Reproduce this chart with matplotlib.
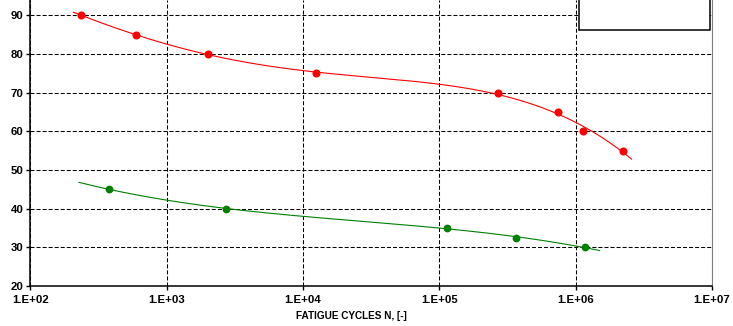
import numpy as np
import matplotlib.pyplot as plt
from matplotlib.patches import Rectangle

plt.rcParams['font.family'] = ['Liberation Sans', 'DejaVu Sans']
plt.rcParams['lines.scale_dashes'] = False

# S-N data: stress level vs fatigue cycles
red_cycles = [234, 600, 2000, 12400, 268000, 740000, 1.13e6, 2.24e6]
red_stress = [90, 85, 80, 75, 70, 65, 60, 55]

green_cycles = [380, 2730, 113500, 364000, 1.17e6]
green_stress = [45, 40, 35, 32.5, 30]

# range of the fitted trend lines (cycles)
red_fit_range = [207, 2.57e6]
green_fit_range = [228, 1.5e6]

x_ticks = [1e2, 1e3, 1e4, 1e5, 1e6, 1e7]
x_ticklabels = ['1.E+02', '1.E+03', '1.E+04', '1.E+05', '1.E+06', '1.E+07']
y_ticks = [20, 30, 40, 50, 60, 70, 80, 90]

fig = plt.figure(figsize=(7.33, 3.26), dpi=100)
ax = fig.add_axes([0.0413, 0.1227, 0.9301, 0.8773])


def trend(cycles, stress, rng, deg):
    lx = np.log10(cycles)
    coef = np.polyfit(lx, stress, deg)
    xs = np.linspace(np.log10(rng[0]), np.log10(rng[1]), 300)
    return 10 ** xs, np.polyval(coef, xs)


rx, ry = trend(red_cycles, red_stress, red_fit_range, 4)
gx, gy = trend(green_cycles, green_stress, green_fit_range, 3)

ax.plot(rx, ry, color='#ff0000', lw=0.8, zorder=3)
ax.plot(red_cycles, red_stress, 'o', color='#ff0000', ms=4.8, zorder=4)
ax.plot(gx, gy, color='#008000', lw=0.8, zorder=3)
ax.plot(green_cycles, green_stress, 'o', color='#008000', ms=4.6, zorder=4)

ax.set_xscale('log')
ax.set_xlim(1e2, 1e7)
ax.set_ylim(20, 93.96)
ax.set_xticks(x_ticks)
ax.set_xticklabels(x_ticklabels)
ax.minorticks_off()
ax.set_yticks(y_ticks)

ax.grid(True, color='black', lw=0.75, linestyle=(0, (2.9, 1.45)))
ax.set_axisbelow(True)

for lab in ax.get_xticklabels() + ax.get_yticklabels():
    lab.set_fontweight('bold')
    lab.set_fontsize(8.2)
ax.tick_params(axis='both', direction='out', length=3, width=1, pad=2)
ax.tick_params(axis='x', pad=3.5)

ax.spines['top'].set_visible(False)
ax.spines['right'].set_color('#808080')
ax.spines['left'].set_linewidth(1.1)
ax.spines['bottom'].set_linewidth(1.1)

fig.text(351 / 733, 1 - 316 / 326, 'FATIGUE CYCLES N, [-]', fontsize=7.2,
         fontweight='bold', ha='center', va='center')

# legend frame in the upper right corner
ax.add_patch(Rectangle((0.805, 0.895), 0.1915, 0.2, transform=ax.transAxes,
                       facecolor='white', edgecolor='black', lw=1.1, zorder=5,
                       clip_on=False))

fig.savefig('out.png', dpi=100)
